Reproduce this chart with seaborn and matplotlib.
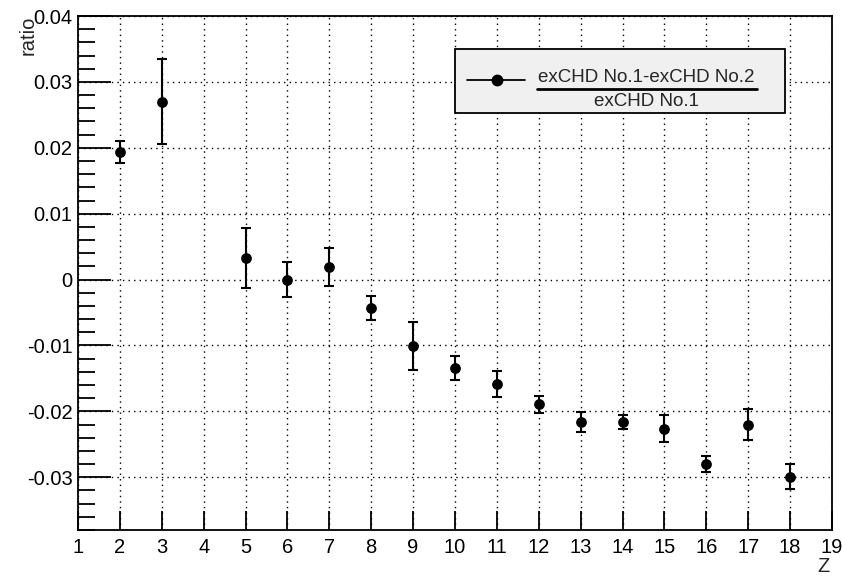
import numpy as np
import pandas as pd
import matplotlib
matplotlib.use("Agg")
import matplotlib.pyplot as plt
from matplotlib.ticker import MultipleLocator, FixedLocator
from matplotlib.patches import Rectangle
from matplotlib.lines import Line2D
import seaborn as sns

# ---- data ----
z_values = [2, 3, 5, 6, 7, 8, 9, 10, 11, 12, 13, 14, 15, 16, 17, 18]
ratio_values = [0.0194, 0.0270, 0.0033, 0.0000, 0.0019, -0.0043, -0.0101, -0.0134,
                -0.0158, -0.0189, -0.0216, -0.0216, -0.0226, -0.0280, -0.0220, -0.0299]
ratio_errors = [0.0017, 0.0064, 0.0046, 0.0026, 0.0029, 0.0018, 0.0036, 0.0018,
                0.0020, 0.0013, 0.0015, 0.0010, 0.0020, 0.0012, 0.0023, 0.0019]
x_ticks = list(range(1, 20))
y_ticks = [-0.03, -0.02, -0.01, 0.0, 0.01, 0.02, 0.03, 0.04]
y_tick_labels = ["-0.03", "-0.02", "-0.01", "0", "0.01", "0.02", "0.03", "0.04"]
legend_numerator = "exCHD No.1-exCHD No.2"
legend_denominator = "exCHD No.1"
x_label = "Z"
y_label = "ratio"

df = pd.DataFrame({"Z": z_values, "ratio": ratio_values, "err": ratio_errors})

sns.set_style("white")
plt.rcParams['font.family'] = ['Liberation Sans', 'DejaVu Sans']

W, H = 842, 577
fig = plt.figure(figsize=(W / 100, H / 100), dpi=100)
L, R, T, B = 78, 832, 16, 530
ax = fig.add_axes([L / W, 1 - B / H, (R - L) / W, (B - T) / H])

ax.set_xlim(1, 19)
ax.set_ylim(-0.038, 0.04)

ax.errorbar(df["Z"], df["ratio"], yerr=df["err"], fmt="none", ecolor="black",
            elinewidth=1.5, capsize=3.5, capthick=1.5, zorder=3)
sns.scatterplot(data=df, x="Z", y="ratio", ax=ax, color="black", s=60,
                edgecolor="black", linewidth=0, zorder=4, legend=False)

# ticks
ax.xaxis.set_major_locator(FixedLocator(x_ticks))
ax.set_xticklabels([str(t) for t in x_ticks])
ax.yaxis.set_major_locator(FixedLocator(y_ticks))
ax.set_yticklabels(y_tick_labels)
ax.yaxis.set_minor_locator(MultipleLocator(0.002))
ax.tick_params(axis="both", which="both", direction="in", colors="black",
               labelsize=14.5, top=False, right=False, left=True, bottom=True)
ax.tick_params(axis="x", which="minor", bottom=False)
ax.tick_params(axis="y", which="major", length=24, width=1.3, pad=4)
ax.tick_params(axis="y", which="minor", length=12, width=1.3)
ax.tick_params(axis="x", which="major", length=14, width=1.3, pad=6)

ax.grid(True, which="major", color="black", linestyle=(0, (1, 3)), linewidth=1.0)
for s in ax.spines.values():
    s.set_color("black")
    s.set_linewidth(1.3)
    s.set_visible(True)

ax.set_xlabel("")
ax.set_ylabel("")
fig.text(28 / W, 1 - 16 / H, y_label, rotation=90, ha="center", va="top", fontsize=14.5)
fig.text(R / W - 0.003, 1 - 567 / H, x_label, ha="right", va="center", fontsize=14.5)

# legend box
def axc(px, py):
    return (px - L) / (R - L), (B - py) / (B - T)

x0, y0 = axc(455, 113)
x1, y1 = axc(785, 49)
ax.add_patch(Rectangle((x0, y0), x1 - x0, y1 - y0, transform=ax.transAxes,
                       facecolor="#f0f0f0", edgecolor="black", linewidth=1.3, zorder=10))
lx0, ly = axc(467, 80)
lx1, _ = axc(525, 80)
mx, _ = axc(497, 80)
ax.add_line(Line2D([lx0, lx1], [ly, ly], transform=ax.transAxes, color="black",
                   linewidth=1.3, zorder=11))
ax.add_line(Line2D([mx], [ly], transform=ax.transAxes, color="black", marker="o",
                   markersize=7.5, zorder=12))
nx, ny = axc(646, 77)
ax.text(nx, ny, legend_numerator, transform=ax.transAxes, ha="center", va="center",
        fontsize=13.5, zorder=12)
fx0, fy = axc(537, 89)
fx1, _ = axc(757, 89)
ax.add_line(Line2D([fx0, fx1], [fy, fy], transform=ax.transAxes, color="black",
                   linewidth=2, zorder=11))
dx, dy = axc(646, 101)
ax.text(dx, dy, legend_denominator, transform=ax.transAxes, ha="center", va="center",
        fontsize=13.5, zorder=12)

fig.savefig("out.png", dpi=100, facecolor="white")
